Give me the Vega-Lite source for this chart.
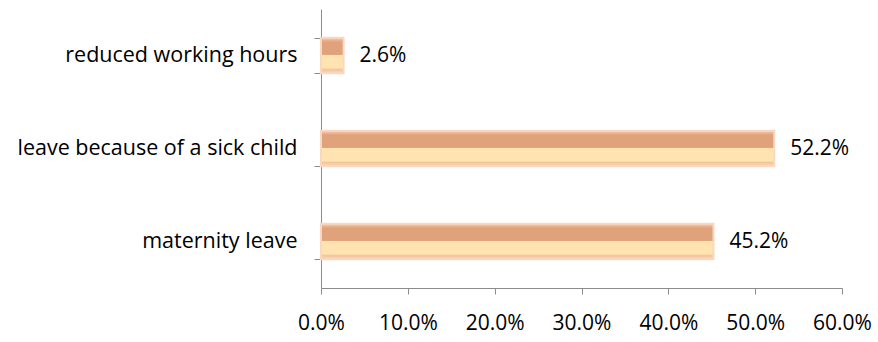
{
  "$schema": "https://vega.github.io/schema/vega-lite/v6.json",
  "width": 521,
  "height": 279,
  "autosize": {"type": "none"},
  "padding": {"left": 321, "top": 9, "right": 36, "bottom": 54},
  "background": "white",
  "config": {"view": {"stroke": null}, "font": "Open Sans"},
  "data": {"values": [
    {"category": "reduced working hours", "value": 0.026},
    {"category": "leave because of a sick child", "value": 0.522},
    {"category": "maternity leave", "value": 0.452}
  ]},
  "encoding": {
    "y": {"field": "category", "type": "nominal", "sort": null,
      "scale": {"paddingInner": 0.62, "paddingOuter": 0.31},
      "axis": {"title": null, "domainColor": "#8c8c8c", "tickColor": "#8c8c8c", "tickSize": 7, "tickBand": "extent",
        "labelFontSize": 21.5, "labelColor": "#000000", "labelPadding": 17, "labelFont": "Open Sans", "labelLimit": 400}},
    "x": {"field": "value", "type": "quantitative",
      "scale": {"domain": [0, 0.6], "nice": false},
      "axis": {"title": null, "format": ".1%", "values": [0, 0.1, 0.2, 0.3, 0.4, 0.5, 0.6], "grid": false,
        "labelAlign": "center", "labelFlush": false,
        "domainColor": "#8c8c8c", "tickColor": "#8c8c8c", "tickSize": 6,
        "labelFontSize": 21, "labelColor": "#000000", "labelPadding": 18, "labelFont": "Open Sans"}}
  },
  "layer": [
    {"mark": {"type": "bar", "stroke": "#F8D8C0", "strokeWidth": 2,
      "color": {"gradient": "linear", "x1": 0, "y1": 0, "x2": 0, "y2": 1,
        "stops": [
          {"offset": 0, "color": "#F9CDAE"},
          {"offset": 0.12, "color": "#DFA27A"},
          {"offset": 0.47, "color": "#DFA27A"},
          {"offset": 0.5, "color": "#FFE3B0"},
          {"offset": 0.85, "color": "#FFE3B0"},
          {"offset": 0.9, "color": "#F3C498"},
          {"offset": 1, "color": "#F9D9C4"}
        ]}}},
    {"mark": {"type": "text", "align": "left", "baseline": "middle", "dx": 16, "fontSize": 21, "color": "#000000", "font": "Open Sans"},
      "encoding": {"text": {"field": "value", "type": "quantitative", "format": ".1%"}}}
  ]
}
